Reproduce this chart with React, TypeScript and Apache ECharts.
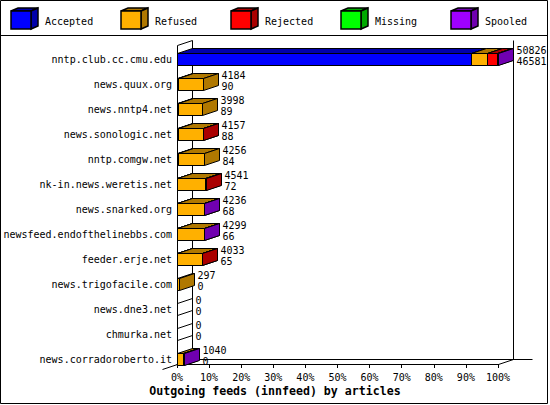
import React, { useEffect, useRef } from 'react';
import * as echarts from 'echarts';

// Hosts, top to bottom
const hosts = [
	'nntp.club.cc.cmu.edu',
	'news.quux.org',
	'news.nntp4.net',
	'news.sonologic.net',
	'nntp.comgw.net',
	'nk-in.news.weretis.net',
	'news.snarked.org',
	'newsfeed.endofthelinebbs.com',
	'feeder.erje.net',
	'news.trigofacile.com',
	'news.dne3.net',
	'chmurka.net',
	'news.corradoroberto.it'
];

// Article counts per host
const offered = [50826, 4184, 3998, 4157, 4256, 4541, 4236, 4299, 4033, 297, 0, 0, 1040];
const accepted = [46581, 90, 89, 88, 84, 72, 68, 66, 65, 0, 0, 0, 0];
const refused = [2573, 4094, 3909, 4040, 4172, 4440, 4130, 4200, 3938, 297, 0, 0, 1000];
const rejected = [1578, 0, 0, 29, 0, 29, 0, 0, 30, 0, 0, 0, 0];
const missing = [0, 0, 0, 0, 0, 0, 0, 0, 0, 0, 0, 0, 0];
const spooled = [94, 0, 0, 0, 0, 0, 38, 33, 0, 0, 0, 0, 40];

const segmentNames = ['Accepted', 'Refused', 'Rejected', 'Missing', 'Spooled'];
const segmentValues = [accepted, refused, rejected, missing, spooled];

// Front face / top+side face colours
const frontColors = ['#0000ff', '#ffb000', '#ff0000', '#00ff00', '#a000ff'];
const darkColors = ['#0000aa', '#b07800', '#aa0000', '#00aa00', '#7000b0'];

const DX = 15;
const DY = 5;
const FONT = '"DejaVu Sans Mono", "Liberation Mono", monospace';
const snap = (v: number) => Math.round(v) + 0.5;

const App: React.FC = () => {
	const chartRef = useRef<HTMLDivElement>(null);

	useEffect(() => {
		if (!chartRef.current) return;
		document.body.style.margin = '0';
		const chart = echarts.init(chartRef.current, null, { renderer: 'svg' });

		// Bar length = sum of segments, scaled to the biggest host
		const totals = hosts.map((_, k) => segmentValues.reduce((acc, arr) => acc + arr[k], 0));
		const maxTotal = Math.max(...totals);
		const pct = (v: number) => (v / maxTotal) * 100;

		const segmentData = segmentValues.map((_, s) =>
			hosts.map((_, k) => {
				let before = 0;
				for (let i = 0; i < s; i++) before += segmentValues[i][k];
				const after = before + segmentValues[s][k];
				return [pct(before), pct(after), k];
			})
		);

		const makeSegmentRenderer = (s: number) => (_params: any, api: any) => {
			const start = api.value(0);
			const end = api.value(1);
			const k = api.value(2);
			if (!(end > start)) return null;
			const a = api.coord([start, k]);
			const b = api.coord([end, k]);
			const x0 = snap(a[0]);
			const x1 = snap(b[0]);
			const top = snap(a[1] - 6);
			const bot = snap(a[1] + 6);
			const line = { stroke: '#000', lineWidth: 1 };
			return {
				type: 'group',
				children: [
					{
						type: 'polygon',
						shape: { points: [[x0, top], [x1, top], [x1, bot], [x0, bot]] },
						style: { fill: frontColors[s], ...line }
					},
					{
						type: 'polygon',
						shape: { points: [[x0, top], [x1, top], [x1 + DX, top - DY], [x0 + DX, top - DY]] },
						style: { fill: darkColors[s], ...line }
					},
					{
						type: 'polygon',
						shape: { points: [[x1, top], [x1 + DX, top - DY], [x1 + DX, bot - DY], [x1, bot]] },
						style: { fill: darkColors[s], ...line }
					}
				]
			};
		};

		// Walls and floor of the 3D box
		const renderFrame = (_params: any, api: any) => {
			const p0 = api.coord([0, 0]);
			const pLast = api.coord([100, hosts.length - 1]);
			const L = snap(p0[0]);
			const R = snap(pLast[0]);
			const FT = snap(p0[1] - 14);
			const FB = snap(pLast[1] + 5);
			const seg = (x1: number, y1: number, x2: number, y2: number) => ({
				type: 'line',
				shape: { x1, y1, x2, y2 },
				style: { stroke: '#000', lineWidth: 1 }
			});
			return {
				type: 'group',
				children: [
					seg(L, FT, L, FB),
					seg(L + DX, FT - DY, L + DX, FB - DY),
					seg(L, FT, L + DX, FT - DY),
					seg(R + DX, FT - DY, R + DX, FB - DY),
					seg(L + DX, FB - DY, R + DX + 19, FB - DY),
					seg(L - DX, FB + DY, L + DX, FB - DY),
					seg(R, FB, R + DX, FB - DY)
				]
			};
		};

		const renderLabels = (_params: any, api: any) => {
			const end = api.value(0);
			const k = api.value(1);
			const off = api.value(2);
			const acc = api.value(3);
			const p = api.coord([end, k]);
			const x = snap(p[0]);
			const c = p[1];
			const children: any[] = [
				{
					type: 'text',
					x: x + DX + 3,
					y: c - 9,
					style: { text: String(off), font: `10px ${FONT}`, fill: '#000', verticalAlign: 'middle' }
				},
				{
					type: 'text',
					x: x + DX + 3,
					y: c + 2,
					style: { text: String(acc), font: `10px ${FONT}`, fill: '#000', verticalAlign: 'middle' }
				}
			];
			if (!(end > 0)) {
				const top = snap(c - 6);
				const bot = snap(c + 6);
				children.push(
					{ type: 'line', shape: { x1: x, y1: top, x2: x + DX, y2: top - DY }, style: { stroke: '#000', lineWidth: 1 } },
					{ type: 'line', shape: { x1: x, y1: bot, x2: x + DX, y2: bot - DY }, style: { stroke: '#000', lineWidth: 1 } }
				);
			}
			return { type: 'group', children };
		};

		// Legend cubes drawn by hand (two-tone 3D boxes)
		const legendGraphics: any[] = [];
		segmentNames.forEach((name, i) => {
			const x = 11 + 110 * i;
			const y = 11;
			const w = 20;
			const h = 18;
			const d = 7;
			const e = 3;
			const line = { stroke: '#000', lineWidth: 1.5 };
			legendGraphics.push(
				{ type: 'polygon', shape: { points: [[x, y], [x + w, y], [x + w + d, y - e], [x + d, y - e]] }, style: { fill: darkColors[i], ...line } },
				{ type: 'polygon', shape: { points: [[x + w, y], [x + w + d, y - e], [x + w + d, y + h - e], [x + w, y + h]] }, style: { fill: darkColors[i], ...line } },
				{ type: 'rect', shape: { x, y, width: w, height: h }, style: { fill: frontColors[i], ...line } },
				{ type: 'text', x: x + 34, y: 21, style: { text: name, font: `10px ${FONT}`, fill: '#000', verticalAlign: 'middle' } }
			);
		});

		const option: any = {
			animation: false,
			backgroundColor: '#fff',
			title: {
				text: 'Outgoing feeds (innfeed) by articles',
				left: 'center',
				top: 385,
				padding: 0,
				textStyle: { fontFamily: FONT, fontSize: 11.6, fontWeight: 'bold', color: '#000' }
			},
			grid: { left: 177, top: 46.5, width: 321, height: 325 },
			xAxis: {
				type: 'value',
				min: 0,
				max: 100,
				interval: 10,
				offset: -7.5,
				axisLine: { show: true, lineStyle: { color: '#000', width: 1 } },
				axisTick: { show: true, length: 4, lineStyle: { color: '#000' } },
				axisLabel: { formatter: '{value}%', color: '#000', fontFamily: FONT, fontSize: 10, margin: 8 },
				splitLine: { show: false }
			},
			yAxis: {
				type: 'category',
				data: hosts,
				inverse: true,
				axisLine: { show: false },
				axisTick: { show: false },
				axisLabel: { color: '#000', fontFamily: FONT, fontSize: 10, margin: 5, interval: 0 },
				splitLine: { show: false }
			},
			graphic: [
				{ type: 'rect', shape: { x: 0.5, y: 0.5, width: 547, height: 403 }, style: { fill: 'none', stroke: '#000', lineWidth: 1 } },
				{ type: 'line', shape: { x1: 0, y1: 35.5, x2: 548, y2: 35.5 }, style: { stroke: '#000', lineWidth: 1 } },
				...legendGraphics
			],
			series: [
				{
					type: 'custom',
					name: 'frame',
					silent: true,
					clip: false,
					z: 1,
					encode: { x: 0, y: 1 },
					data: [[0, 0]],
					renderItem: renderFrame
				},
				...segmentNames.map((name, s) => ({
					type: 'custom',
					name,
					clip: false,
					z: 2 + s,
					encode: { x: [0, 1], y: 2 },
					data: segmentData[s],
					renderItem: makeSegmentRenderer(s)
				})),
				{
					type: 'custom',
					name: 'labels',
					silent: true,
					clip: false,
					z: 8,
					encode: { x: 0, y: 1 },
					data: hosts.map((_, k) => [pct(totals[k]), k, offered[k], accepted[k]]),
					renderItem: renderLabels
				}
			]
		};

		chart.setOption(option);

		return () => {
			chart.dispose();
		};
	}, []);

	return (
		<div
			ref={chartRef}
			style={{ position: 'fixed', left: 0, top: 0, width: '550px', height: '405px', background: '#fff' }}
		/>
	);
};

export default App;
